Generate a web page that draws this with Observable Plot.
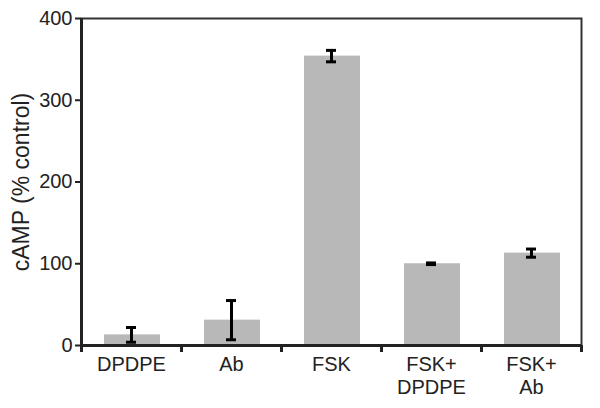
<!DOCTYPE html>
<html>
<head>
<meta charset="utf-8">
<script src="https://cdn.jsdelivr.net/npm/d3@7"></script>
<script src="https://cdn.jsdelivr.net/npm/@observablehq/plot@0.6"></script>
<style>
  html, body { margin: 0; padding: 0; background: #fff; }
  svg { display: block; }
</style>
</head>
<body>
<div id="chart"></div>
<script>
const categories = ["DPDPE", "Ab", "FSK", "FSK+\nDPDPE", "FSK+\nAb"];
const values = [13, 31, 354, 100, 113];
const errors = [9, 24, 7, 1, 5];
const yTicks = [0, 100, 200, 300, 400];

const data = categories.map((c, i) => ({cat: c, value: values[i], err: errors[i]}));

const W = 600, H = 408, ML = 81, MR = 19, MT = 18, MB = 63;
const plotH = H - MT - MB;
const band = (W - ML - MR) / categories.length;

const chart = Plot.plot({
  width: W,
  height: H,
  marginLeft: ML,
  marginRight: MR,
  marginTop: MT,
  marginBottom: MB,
  style: {fontFamily: "'Liberation Sans', Arial, sans-serif", fontSize: "20px", color: "#222", background: "#fff"},
  x: {domain: categories, padding: 0, label: null},
  y: {domain: [0, 400], ticks: yTicks, label: null},
  marks: [
    Plot.barY(data, {x: "cat", y: "value", fill: "#b8b8b8", insetLeft: 23, insetRight: 21}),
    Plot.ruleX(data, {x: "cat", y1: d => d.value - d.err, y2: d => d.value + d.err, stroke: "#000", strokeWidth: 3}),
    Plot.tickY(data, {x: "cat", y: d => d.value - d.err, stroke: "#000", strokeWidth: 3, insetLeft: 45, insetRight: 45}),
    Plot.tickY(data, {x: "cat", y: d => d.value + d.err, stroke: "#000", strokeWidth: 3, insetLeft: 45, insetRight: 45}),
    Plot.frame({stroke: "#333", strokeWidth: 2}),
    Plot.ruleY([0], {stroke: "#222", strokeWidth: 3}),
    Plot.ruleX(categories, {x: d => d, dx: -band / 2, stroke: "#222", strokeWidth: 3, insetTop: plotH, insetBottom: -7}),
    Plot.ruleX([categories[categories.length - 1]], {x: d => d, dx: band / 2, stroke: "#222", strokeWidth: 3, insetTop: plotH, insetBottom: -7}),
    Plot.ruleX([categories[0]], {x: d => d, dx: -band / 2, stroke: "#222", strokeWidth: 3}),
    Plot.axisY({ticks: yTicks, tickSize: 6, tickPadding: 3, strokeWidth: 2, stroke: "#222", fill: "#222", fontSize: 20, label: null}),
    Plot.axisX({tickSize: 0, tickPadding: 9, fill: "#222", fontSize: 20, lineHeight: 1.15, label: null}),
    Plot.text(["cAMP (% control)"], {frameAnchor: "left", textAnchor: "middle", dx: -60, rotate: -90, fontSize: 23, fill: "#222"})
  ]
});
document.getElementById("chart").appendChild(chart);
</script>
</body>
</html>
